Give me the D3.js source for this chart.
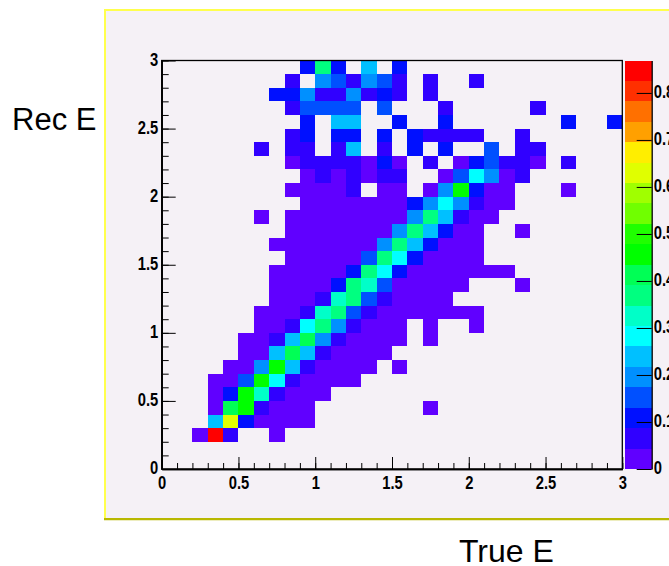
<!doctype html>
<html lang="en">
<head>
  <meta charset="utf-8">
  <title>Rec E vs True E</title>
  <script src="https://d3js.org/d3.v7.min.js"></script>
  <style>
    body { margin: 0; background: #fff; overflow: hidden; }
    .axis text { font-family: "Liberation Sans", sans-serif; font-weight: bold; font-size: 18px; fill: #000; }
    .axis path, .axis line { stroke: #000; }
  </style>
</head>
<body>
  <svg xmlns="http://www.w3.org/2000/svg"></svg>
  <script>
    var xTicks = [0, 0.5, 1, 1.5, 2, 2.5, 3];
    var yTicks = [0, 0.5, 1, 1.5, 2, 2.5, 3];
    var zTicks = [0, 0.1, 0.2, 0.3, 0.4, 0.5, 0.6, 0.7, 0.8];
    var zMax = 0.869;
    var binSize = 0.1;

    var palette = ["#6000ff", "#3000ff", "#0010ff", "#0050ff", "#0090ff",
                   "#00c0ff", "#00ffff", "#00ffc8", "#00ff80", "#00ff55",
                   "#00ff00", "#20ff00", "#70ff00", "#a0ff00", "#e0ff00",
                   "#ffee00", "#ffa000", "#ff7000", "#ff3000", "#ff0000"];

    // one line per Rec E bin, top (2.9-3.0) to bottom (0-0.1)
    // first number = first True E bin of the run, then the bin contents, 0 = empty
    var zRows = [
      [9, .11,.37,.11,0,.24,0,.11],
      [8, .065,0,.195,.15,.065,.195,.15,.065,0,.065,0,0,.065],
      [7, .11,.11,.195,.065,.065,.195,.065,.11,.065,0,.065],
      [8, .065,.15,.15,.15,.15,0,.15,0,0,0,.065,0,0,0,0,0,.065],
      [9, .11,0,.24,.24,0,0,.11,0,0,.11,0,0,0,0,0,0,0,.11,0,0,.11],
      [8, .065,.11,0,.11,.11,0,.11,0,.11,.065,.065,.065,.065,0,0,.065],
      [6, .065,0,.065,.065,0,.065,.24,0,.065,0,.11,0,.11,0,0,.15,0,.065,.065],
      [8, .02,.065,.065,.065,.065,.02,.11,.02,0,.065,0,.02,.11,.15,.065,.065,.02,0,.065],
      [9, .02,.065,.02,.065,.02,.065,.065,0,0,.02,.15,.28,.195,.02,.065],
      [8, .02,.02,.02,.02,.065,0,.02,.02,0,.02,.195,.455,.11,.02,.02,0,0,0,.02],
      [9, .02,.02,.02,.02,.02,.02,.02,.11,.195,.28,.195,.065,.02,.02],
      [6, .02,0,.02,.02,.02,.02,.02,.02,.02,.02,.195,.37,.24,.065,.02,.02],
      [8, .02,.02,.02,.02,.02,.02,.02,.195,.37,.24,.11,.02,.02,0,0,.02],
      [7, .02,.02,.02,.02,.02,.02,.02,.195,.37,.24,.11,.02,.02,.02],
      [8, .02,.02,.02,.02,.02,.15,.37,.28,.11,.02,.02,.02,.02],
      [7, .02,.02,.02,.02,.02,.11,.37,.28,.11,.02,.02,.02,.02,.02,.02,.02],
      [7, .02,.02,.02,.02,.11,.37,.325,.15,.02,.02,.02,.02,.02,0,0,0,.02],
      [7, .02,.02,.02,.065,.325,.37,.15,.065,.02,.02,.02,.02],
      [6, .02,.02,.02,.065,.325,.37,.15,.065,.02,.02,.02,.02,.02,.02,.02],
      [6, .02,.02,.065,.28,.37,.195,.065,.02,.02,.02,0,.02,0,0,.02],
      [5, .02,.02,.065,.24,.41,.195,.065,.02,.02,.02,.02,0,.02],
      [5, .02,.02,.24,.41,.24,.065,.02,.02,.02,.02],
      [4, .02,.02,.195,.455,.24,.065,.02,.02,.02,.02,0,.02],
      [3, .02,.02,.15,.455,.28,.065,.02,.02,.02,.02],
      [3, .02,.11,.455,.325,.065,.02,.02,.02],
      [3, .02,.41,.455,.065,.02,.02,.02,0,0,0,0,0,0,0,.02],
      [3, .24,.63,.11,.02,.02,.02,.02],
      [2, .02,.85,.065,0,0,.02],
      [0],
      [0]
    ];

    // flatten the rows into bins
    var cells = [];
    zRows.forEach(function (row, r) {
      row.slice(1).forEach(function (z, i) {
        if (z > 0) cells.push({ trueE: (row[0] + i) * binSize, recE: 3 - (r + 1) * binSize, z: z });
      });
    });

    var svg = d3.select("svg").attr("width", 669).attr("height", 566);

    var margin = { top: 60.5, left: 161.7, right: 622.3, bottom: 469 };
    var barLeft = 624.7, barRight = 651.7;
    var squeeze = 0.82; // tick labels in the original are a condensed bold

    // canvas frame
    svg.append("rect").attr("x", 105).attr("y", 10).attr("width", 570).attr("height", 509)
      .attr("fill", "#f5f1f6");
    svg.append("path").attr("d", "M105,519V10H669").attr("fill", "none")
      .attr("stroke", "#ffff4d").attr("stroke-width", 2);
    svg.append("path").attr("d", "M104,519.2H669").attr("fill", "none")
      .attr("stroke", "#b8b800").attr("stroke-width", 2.2);

    var x = d3.scaleLinear().domain([0, 3]).range([margin.left, margin.right]);
    var y = d3.scaleLinear().domain([0, 3]).range([margin.bottom, margin.top]);
    var zBar = d3.scaleLinear().domain([0, zMax]).range([margin.bottom, margin.top]);
    var color = d3.scaleQuantize().domain([0, zMax]).range(palette);

    svg.append("g").attr("shape-rendering", "crispEdges").selectAll("rect")
      .data(cells)
      .join("rect")
      .attr("x", function (d) { return x(d.trueE); })
      .attr("y", function (d) { return y(d.recE + binSize); })
      .attr("width", function (d) { return x(d.trueE + binSize) - x(d.trueE); })
      .attr("height", function (d) { return y(d.recE) - y(d.recE + binSize); })
      .attr("fill", function (d) { return color(d.z); });

    // colour bar
    svg.append("g").attr("shape-rendering", "crispEdges").selectAll("rect")
      .data(palette)
      .join("rect")
      .attr("x", barLeft)
      .attr("y", function (d) { return zBar(color.invertExtent(d)[1]); })
      .attr("width", barRight - barLeft)
      .attr("height", function (d) {
        var e = color.invertExtent(d);
        return zBar(e[0]) - zBar(e[1]);
      })
      .attr("fill", function (d) { return d; });

    var fmt = d3.format("~g");
    var minorTicks = d3.range(0, 31).map(function (i) { return i * binSize; });

    // minor ticks first, majors with labels on top
    svg.append("g").attr("class", "axis")
      .attr("transform", "translate(0," + margin.bottom + ")")
      .call(d3.axisTop(x).tickValues(minorTicks).tickSize(6).tickFormat("").tickSizeOuter(0));
    svg.append("g").attr("class", "axis")
      .attr("transform", "translate(" + margin.left + ",0)")
      .call(d3.axisRight(y).tickValues(minorTicks).tickSize(7).tickFormat("").tickSizeOuter(0));

    var xAxis = svg.append("g").attr("class", "axis")
      .attr("transform", "translate(0," + margin.bottom + ")")
      .call(d3.axisTop(x).tickValues(xTicks).tickSize(12).tickFormat(fmt).tickSizeOuter(0));
    xAxis.selectAll("text").attr("y", 20).attr("dy", 0)
      .attr("transform", "scale(" + squeeze + ",1)");

    var yAxis = svg.append("g").attr("class", "axis")
      .attr("transform", "translate(" + margin.left + ",0)")
      .call(d3.axisRight(y).tickValues(yTicks).tickSize(14).tickFormat(fmt).tickSizeOuter(0));
    yAxis.selectAll("text").attr("x", -3.4 / squeeze).attr("dy", ".27em")
      .attr("text-anchor", "end").attr("transform", "scale(" + squeeze + ",1)");

    var zAxis = svg.append("g").attr("class", "axis")
      .attr("transform", "translate(" + barRight + ",0)")
      .call(d3.axisLeft(zBar).tickValues(zTicks).tickSize(15).tickFormat(fmt).tickSizeOuter(0));
    zAxis.selectAll("text").attr("x", 2 / squeeze).attr("dy", ".27em")
      .attr("text-anchor", "start").attr("transform", "scale(" + squeeze + ",1)");

    // plot box
    svg.append("rect")
      .attr("x", margin.left).attr("y", margin.top)
      .attr("width", margin.right - margin.left).attr("height", margin.bottom - margin.top)
      .attr("fill", "none").attr("stroke", "#000").attr("stroke-width", 1.3);
    svg.selectAll(".axis path").attr("stroke-width", 1.3);

    svg.append("text").attr("x", 12).attr("y", 130)
      .style("font-family", "Liberation Sans").style("font-size", "31px").text("Rec E");
    svg.append("text").attr("x", 459).attr("y", 562)
      .style("font-family", "Liberation Sans").style("font-size", "32px").text("True E");
  </script>
</body>
</html>
